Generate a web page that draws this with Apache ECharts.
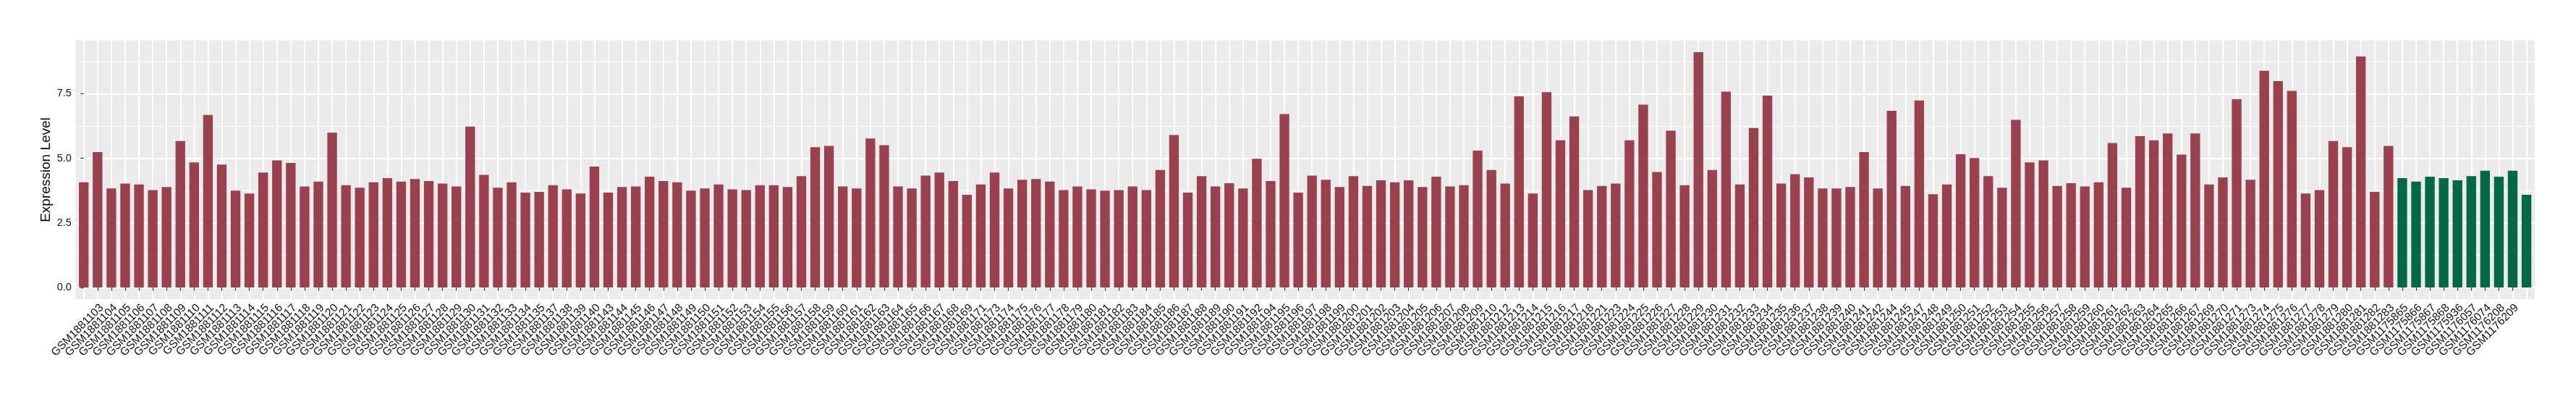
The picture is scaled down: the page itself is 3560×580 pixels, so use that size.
<!DOCTYPE html>
<html>
<head>
<meta charset="utf-8">
<script src="https://cdn.jsdelivr.net/npm/echarts@6/dist/echarts.min.js"></script>
<style>
html, body { margin: 0; padding: 0; background: #ffffff; }
#chart { width: 3560px; height: 580px; }
</style>
</head>
<body>
<div id="chart"></div>
<script>
const redSamples = [
  'GSM1881102','GSM1881103','GSM1881104','GSM1881105','GSM1881106','GSM1881107','GSM1881108','GSM1881109','GSM1881110','GSM1881111',
  'GSM1881112','GSM1881113','GSM1881114','GSM1881115','GSM1881116','GSM1881117','GSM1881118','GSM1881119','GSM1881120','GSM1881121',
  'GSM1881122','GSM1881123','GSM1881124','GSM1881125','GSM1881126','GSM1881127','GSM1881128','GSM1881129','GSM1881130','GSM1881131',
  'GSM1881132','GSM1881133','GSM1881134','GSM1881135','GSM1881137','GSM1881138','GSM1881139','GSM1881140','GSM1881143','GSM1881144',
  'GSM1881145','GSM1881146','GSM1881147','GSM1881148','GSM1881149','GSM1881150','GSM1881151','GSM1881152','GSM1881153','GSM1881154',
  'GSM1881155','GSM1881156','GSM1881157','GSM1881158','GSM1881159','GSM1881160','GSM1881161','GSM1881162','GSM1881163','GSM1881164',
  'GSM1881165','GSM1881166','GSM1881167','GSM1881168','GSM1881169','GSM1881171','GSM1881173','GSM1881174','GSM1881175','GSM1881176',
  'GSM1881177','GSM1881178','GSM1881179','GSM1881180','GSM1881181','GSM1881182','GSM1881183','GSM1881184','GSM1881185','GSM1881186',
  'GSM1881187','GSM1881188','GSM1881189','GSM1881190','GSM1881191','GSM1881192','GSM1881194','GSM1881195','GSM1881196','GSM1881197',
  'GSM1881198','GSM1881199','GSM1881200','GSM1881201','GSM1881202','GSM1881203','GSM1881204','GSM1881205','GSM1881206','GSM1881207',
  'GSM1881208','GSM1881209','GSM1881210','GSM1881212','GSM1881213','GSM1881214','GSM1881215','GSM1881216','GSM1881217','GSM1881218',
  'GSM1881221','GSM1881223','GSM1881224','GSM1881225','GSM1881226','GSM1881227','GSM1881228','GSM1881229','GSM1881230','GSM1881231',
  'GSM1881232','GSM1881233','GSM1881234','GSM1881235','GSM1881236','GSM1881237','GSM1881238','GSM1881239','GSM1881240','GSM1881241',
  'GSM1881242','GSM1881244','GSM1881245','GSM1881247','GSM1881248','GSM1881249','GSM1881250','GSM1881251','GSM1881252','GSM1881253',
  'GSM1881254','GSM1881255','GSM1881256','GSM1881257','GSM1881258','GSM1881259','GSM1881260','GSM1881261','GSM1881262','GSM1881263',
  'GSM1881264','GSM1881265','GSM1881266','GSM1881267','GSM1881269','GSM1881270','GSM1881271','GSM1881273','GSM1881274','GSM1881275',
  'GSM1881276','GSM1881277','GSM1881278','GSM1881279','GSM1881280','GSM1881281','GSM1881282','GSM1881283'
];
const redValues = [
  4.07,5.24,3.83,4.02,3.99,3.77,3.89,5.67,4.84,6.68,
  4.76,3.75,3.64,4.45,4.92,4.82,3.91,4.10,5.99,3.96,
  3.86,4.07,4.23,4.10,4.20,4.12,4.02,3.91,6.23,4.36,
  3.86,4.07,3.67,3.70,3.96,3.80,3.64,4.68,3.67,3.89,
  3.91,4.29,4.12,4.07,3.75,3.83,3.99,3.80,3.77,3.96,
  3.96,3.89,4.31,5.43,5.48,3.91,3.83,5.77,5.51,3.91,
  3.83,4.33,4.45,4.12,3.59,3.99,4.45,3.83,4.17,4.20,
  4.10,3.77,3.91,3.80,3.75,3.77,3.91,3.77,4.55,5.90,
  3.67,4.31,3.91,4.04,3.83,4.98,4.12,6.71,3.67,4.33,
  4.17,3.89,4.31,3.93,4.15,4.07,4.15,3.89,4.29,3.91,
  3.96,5.30,4.55,4.02,7.40,3.64,7.56,5.70,6.62,3.77,
  3.93,4.02,5.70,7.08,4.47,6.07,3.96,9.11,4.55,7.58,
  3.99,6.17,7.43,4.02,4.39,4.26,3.83,3.83,3.89,5.24,
  3.83,6.84,3.93,7.24,3.61,3.99,5.16,5.01,4.31,3.86,
  6.49,4.84,4.92,3.93,4.04,3.91,4.07,5.59,3.86,5.86,
  5.70,5.96,5.14,5.96,3.99,4.26,7.29,4.17,8.39,7.99,
  7.61,3.64,3.77,5.67,5.43,8.94,3.70,5.48
];
const greenSamples = [
  'GSM1175865','GSM1175866','GSM1175867','GSM1175868','GSM1175936',
  'GSM1176057','GSM1176074','GSM1176208','GSM1176209','GSM463934'
];
const greenValues = [4.23,4.10,4.29,4.23,4.15,4.31,4.52,4.29,4.52,3.59];
const yTicks = [0, 2.5, 5, 7.5];
const yMinorTicks = [1.25, 3.75, 6.25, 8.75];
const yTitle = 'Expression Level';

const samples = redSamples.concat(greenSamples);
const idx = samples.map((s, i) => i);
const allVals = redValues.concat(greenValues);
const vmax = Math.max.apply(null, allVals);
const yMin = -0.05 * vmax, yMax = vmax * 1.05;

const chart = echarts.init(document.getElementById('chart'), null, { renderer: 'canvas' });
const FONT = '"Liberation Sans", Arial, Helvetica, sans-serif';
chart.setOption({
  animation: false,
  backgroundColor: '#ffffff',
  grid: {
    left: 104.3, top: 55.7, width: 3398.7, height: 357.6,
    show: true, backgroundColor: '#EBEBEB', borderWidth: 0
  },
  xAxis: {
    type: 'value',
    min: -0.6, max: samples.length - 0.4,
    axisLine: { show: false },
    axisTick: { show: true, customValues: idx, length: 4.5, lineStyle: { color: '#333333', width: 1.2 } },
    axisLabel: {
      customValues: idx, rotate: 45, margin: 3.7,
      align: 'right', verticalAlign: 'top',
      formatter: v => samples[v],
      fontFamily: FONT, fontSize: 15.5, color: '#111111'
    },
    splitLine: { show: true, lineStyle: { color: '#FFFFFF', width: 2 } }
  },
  yAxis: [{
    type: 'value', min: yMin, max: yMax,
    name: yTitle, nameLocation: 'middle', nameGap: 31, nameMoveOverlap: false,
    nameTextStyle: { fontFamily: FONT, fontSize: 19, color: '#000000' },
    axisLine: { show: false },
    axisTick: { show: true, customValues: yTicks, length: 4.5, lineStyle: { color: '#333333', width: 1.2 } },
    axisLabel: {
      customValues: yTicks, margin: 5.5,
      formatter: v => v.toFixed(1),
      fontFamily: FONT, fontSize: 14.5, color: '#111111'
    },
    splitLine: { show: true, lineStyle: { color: '#FFFFFF', width: 2 } }
  }, {
    type: 'value', min: yMin, max: yMax,
    axisLine: { show: false },
    axisTick: { show: false, customValues: yMinorTicks },
    axisLabel: { show: false, customValues: yMinorTicks },
    splitLine: { show: true, lineStyle: { color: '#FFFFFF', width: 1 } }
  }],
  series: [{
    type: 'bar', name: 'red',
    data: redValues.map((v, i) => [i, v]),
    barWidth: 13.35,
    itemStyle: { color: '#9A4150' },
    z: 3
  }, {
    type: 'bar', name: 'green',
    data: greenValues.map((v, i) => [redSamples.length + i, v]),
    barWidth: 13.35, barGap: '-100%',
    itemStyle: { color: '#036847' },
    z: 3
  }]
});
</script>
</body>
</html>
